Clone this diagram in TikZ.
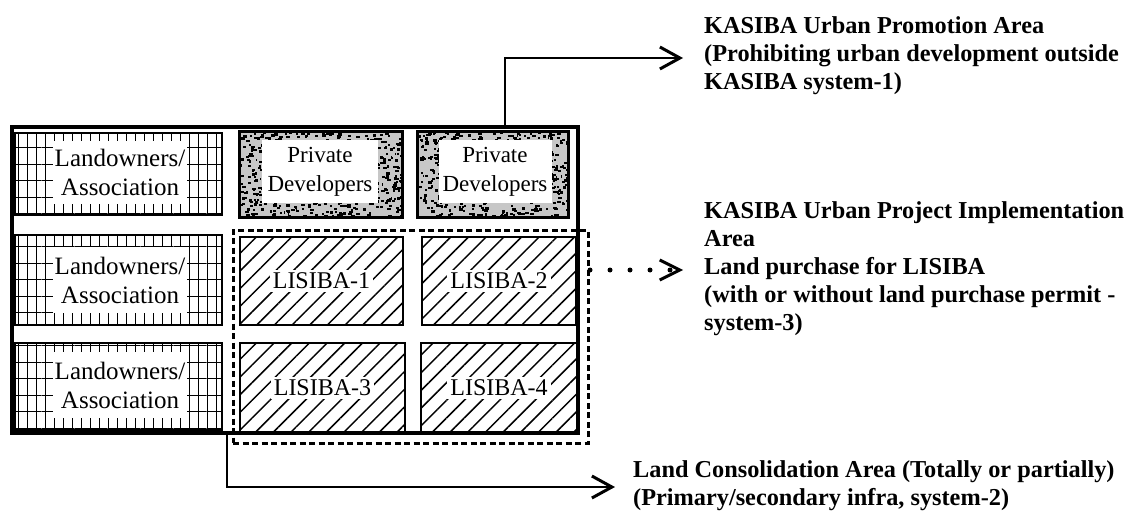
\documentclass[tikz,border=0pt]{standalone}
\usepackage{fontspec}
\setmainfont{Liberation Serif}
\usetikzlibrary{arrows.meta,patterns.meta}
\begin{document}
\begin{tikzpicture}[x=1pt,y=-1pt,
  lbl/.style={align=center, font=\fontsize{25}{29}\selectfont, inner sep=0pt},
  gridbox/.style={draw, line width=1.2pt, inner sep=0pt,
     postaction={pattern={Lines[angle=90,distance=9pt,line width=1pt]}},
     postaction={pattern={Lines[angle=0,distance=16.5pt,line width=1pt]}}},
  hatchbox/.style={draw, line width=2.2pt, inner sep=0pt,
     postaction={pattern={Lines[angle=45,distance=12.5pt,line width=1.5pt]}}},
  pdbox/.style={fill=black!22, inner sep=0pt},
  pdborder/.style={line width=2.8pt},
  whitepad/.style={lbl, fill=white},
  pdlbl/.style={whitepad, font=\fontsize{23}{29}\selectfont},
  lislbl/.style={lbl, fill=white, inner sep=3pt, font=\fontsize{24}{29}\selectfont},
  outerframe/.style={draw, line width=4pt, inner sep=0pt},
  dashframe/.style={draw, line width=3pt, dash pattern=on 6pt off 3.5pt, inner sep=0pt},
  conn/.style={line width=2.6pt, -{Straight Barb[length=20pt,width=22pt,line width=3pt]}},
  dotconn/.style={line width=5pt, line cap=round, dash pattern=on 0pt off 20pt,
     -{Straight Barb[length=20pt,width=20pt,line width=3pt]}},
  rtext/.style={anchor=north west, align=left, inner sep=0pt, font=\fontsize{24.3}{28}\selectfont\bfseries}
]
\path[use as bounding box] (0,0) rectangle (1131,511);

% Landowners / Association boxes (grid)
\node[gridbox, minimum width=207pt, minimum height=82pt] (lb1) at (118.5,174) {};
\node[gridbox, minimum width=207pt, minimum height=90pt] (lb2) at (118.5,280) {};
\node[gridbox, minimum width=207pt, minimum height=87pt] (lb3) at (118.5,386.5) {};
\node[whitepad, minimum width=134pt, minimum height=63pt] (lw1) at (120,172) {Landowners/\\Association};
\node[whitepad, minimum width=134pt, minimum height=66pt] (lw2) at (120,280) {Landowners/\\Association};
\node[whitepad, minimum width=134pt, minimum height=66pt] (lw3) at (120,385) {Landowners/\\Association};

% Private developers boxes (textured)
\node[pdbox, minimum width=162pt, minimum height=85pt] (pd1) at (321,174.5) {};
\node[pdbox, minimum width=150pt, minimum height=85pt] (pd2) at (493,174.5) {};
\begin{scope}
  \clip (pd1.north west) rectangle (pd1.south east);
  \pgfmathsetseed{42}
  \foreach \k in {1,...,650}{\pgfmathsetmacro\px{240+162*rnd}\pgfmathsetmacro\py{132+85*rnd}
    \pgfmathsetmacro\pw{1.5+2.5*rnd}
    \fill (\px,\py) rectangle ++(\pw,2.2);}
\end{scope}
\begin{scope}
  \clip (pd2.north west) rectangle (pd2.south east);
  \pgfmathsetseed{77}
  \foreach \k in {1,...,620}{\pgfmathsetmacro\px{418+150*rnd}\pgfmathsetmacro\py{132+85*rnd}
    \pgfmathsetmacro\pw{1.5+2.5*rnd}
    \fill (\px,\py) rectangle ++(\pw,2.2);}
\end{scope}
\node[pdlbl, minimum width=116pt, minimum height=63pt] (pw1) at (320,171.5) {Private\\Developers};
\node[pdlbl, minimum width=113pt, minimum height=63pt] (pw2) at (495,171.5) {Private\\Developers};
\draw[pdborder] (pd1.north west) rectangle (pd1.south east);
\draw[pdborder] (pd2.north west) rectangle (pd2.south east);

% LISIBA boxes (hatched)
\node[hatchbox, minimum width=163pt, minimum height=88pt] (ls1) at (321.5,281) {};
\node[hatchbox, minimum width=154pt, minimum height=88pt] (ls2) at (499,281) {};
\node[hatchbox, minimum width=165pt, minimum height=90pt] (ls3) at (322.5,388) {};
\node[hatchbox, minimum width=156pt, minimum height=90pt] (ls4) at (499,388) {};
\node[lislbl] (lt1) at (ls1) {LISIBA-1};
\node[lislbl] (lt2) at (ls2) {LISIBA-2};
\node[lislbl] (lt3) at (ls3) {LISIBA-3};
\node[lislbl] (lt4) at (ls4) {LISIBA-4};

% frames
\node[outerframe, minimum width=566pt, minimum height=306pt] (frame) at (295,280) {};
\node[dashframe, minimum width=355pt, minimum height=213pt] (lisarea) at (410.5,336.5) {};

% texts
\node[rtext] (t1) at (704,13.4) {\strut KASIBA Urban Promotion Area\\(Prohibiting urban development outside\\KASIBA system-1)};
\node[rtext] (t2) at (704,198.4) {\strut KASIBA Urban Project Implementation\\Area\\Land purchase for LISIBA\\(with or without land purchase permit -\\system-3)};
\node[rtext] (t3) at (633,457.4) {\strut Land Consolidation Area (Totally or partially)\\(Primary/secondary infra, system-2)};

% connectors
\coordinate (upstart) at (505,127);
\coordinate (uptip) at (683,58);
\draw[conn] (upstart) |- (uptip);
\coordinate (downstart) at (227,433);
\coordinate (downtip) at (615,487);
\draw[conn] (downstart) |- (downtip);
\coordinate (dotstart) at (590,270);
\coordinate (dottip) at (683,270);
\draw[dotconn] (dotstart) -- (dottip);
\end{tikzpicture}
\end{document}
